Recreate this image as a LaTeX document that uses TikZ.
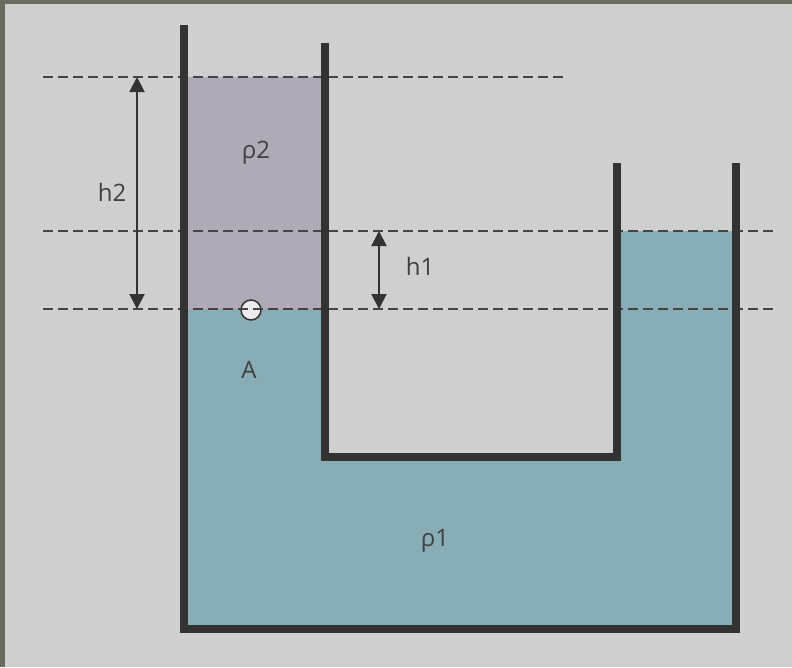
\documentclass[tikz,border=0pt]{standalone}
\usepackage{fontspec}
\setmainfont{Open Sans}
\usetikzlibrary{arrows.meta}
\definecolor{bg}{HTML}{CFCFCF}
\definecolor{frame}{HTML}{6B6C5F}
\definecolor{wall}{HTML}{333333}
\definecolor{liqtwo}{HTML}{B0A9B6}
\definecolor{liqone}{HTML}{89ADB6}
\definecolor{txt}{HTML}{404040}
\definecolor{dashc}{HTML}{444444}
\begin{document}
\begin{tikzpicture}[x=1pt,y=-1pt,
  wallline/.style={draw=wall,line width=8pt,line join=miter},
  levelline/.style={draw=dashc,line width=2pt,dash pattern=on 10pt off 5pt},
  dimarrow/.style={draw=wall,line width=2pt,{Triangle[length=15pt,width=15pt]}-{Triangle[length=15pt,width=15pt]}},
  lbl/.style={text=txt,font=\fontsize{24}{28}\selectfont,inner sep=0pt}]
\useasboundingbox (0,0) rectangle (792,667);
\fill[bg] (0,0) rectangle (792,667);
\fill[frame] (0,0) rectangle (792,4);
\fill[frame] (0,0) rectangle (5,667);
% liquids
\fill[liqone] (183.5,309) -- (324.5,309) -- (324.5,456.5) -- (616.5,456.5) -- (616.5,231) -- (735.5,231) -- (735.5,628.5) -- (183.5,628.5) -- cycle;
\fill[liqtwo] (183.5,77) rectangle (324.5,309);
% point A
\node[circle,draw=wall,fill=white!60!bg,line width=1.5pt,minimum size=20pt,inner sep=0pt] (ptA) at (251,310) {};
% level lines
\coordinate (l1a) at (43,77); \coordinate (l1b) at (567,77);
\coordinate (l2a) at (43,231); \coordinate (l2b) at (777,231);
\coordinate (l3a) at (43,309); \coordinate (l3b) at (777,309);
\draw[levelline] (l1a) -- (l1b);
\draw[levelline] (l2a) -- (l2b);
\draw[levelline] (l3a) -- (l3b);
% walls
\coordinate (w1) at (183.5,25); \coordinate (w2) at (183.5,628.5);
\coordinate (w3) at (735.5,628.5); \coordinate (w4) at (735.5,163);
\coordinate (u1) at (324.5,43); \coordinate (u2) at (324.5,456.5);
\coordinate (u3) at (616.5,456.5); \coordinate (u4) at (616.5,163);
\draw[wallline] (w1) -- (w2) -- (w3) -- (w4);
\draw[wallline] (u1) -- (u2) -- (u3) -- (u4);
% dimension arrows
\coordinate (h2t) at (137,77); \coordinate (h2b) at (137,309);
\coordinate (h1t) at (379,231); \coordinate (h1b) at (379,309);
\draw[dimarrow] (h2t) -- (h2b);
\draw[dimarrow] (h1t) -- (h1b);
% labels
\node[lbl] (lh2) at (112,192) {h2};
\node[lbl] (lh1) at (420,266) {h1};
\node[lbl] (lr2) at (256,153) {ρ2};
\node[lbl] (lr1) at (435,541) {ρ1};
\node[lbl] (lA) at (249,370) {A};
\end{tikzpicture}
\end{document}
